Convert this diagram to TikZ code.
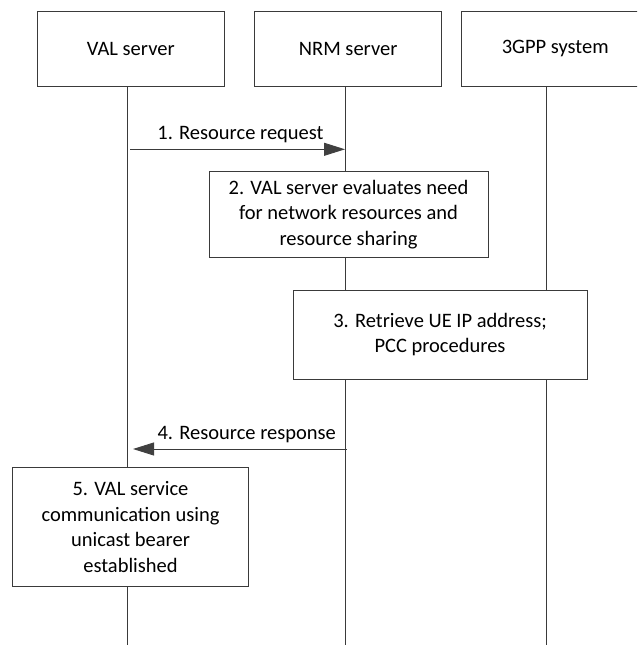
\documentclass[tikz,border=0pt]{standalone}
\usepackage{fontspec}
\setmainfont{Carlito}
\usetikzlibrary{arrows.meta}
\definecolor{linegray}{HTML}{3A3A3A}
\definecolor{headgray}{HTML}{404040}
\tikzset{
  txt/.style={font=\fontsize{20.5}{25.5}\selectfont, align=center, inner sep=0pt},
  actor/.style={draw=linegray, line width=0.9pt, fill=white, minimum width=187pt, minimum height=75pt, txt},
  stepbox/.style={draw=linegray, line width=0.9pt, fill=white, txt},
  life/.style={draw=linegray, line width=0.9pt},
  msg/.style={draw=linegray, line width=0.9pt, -{Triangle[length=21pt,width=13pt,fill=headgray,color=headgray]}},
  lbl/.style={txt, above=6pt}
}
\begin{document}
\begin{tikzpicture}[x=1pt,y=-1pt]
\path[use as bounding box] (0,0) rectangle (637,645);
\clip (0,0) rectangle (637,645);
\fill[white] (0,0) rectangle (637,645);

% lifeline anchors
\coordinate (valtop) at (127.7,86);
\coordinate (valbot) at (127.7,646);
\coordinate (nrmtop) at (345,86);
\coordinate (nrmbot) at (345,646);
\coordinate (sysTop) at (546.7,86);
\coordinate (sysBot) at (546.7,646);

\draw[life] (valtop) -- (valbot);
\draw[life] (nrmtop) -- (nrmbot);
\draw[life] (sysTop) -- (sysBot);

% headers
\node[actor] (val) at (130.8,48.5) {VAL server};
\node[actor] (nrm) at (348.2,48.5) {NRM server};
\node[actor] (sys) at (555.2,48.5) {3GPP system};

% message 1
\coordinate (m1s) at (130,149.3);
\coordinate (m1e) at (345,149.3);
\draw[msg] (m1s) -- (m1e) node[lbl, midway, xshift=3pt] (l1) {1. Resource request};

% step 2
\node[stepbox, minimum width=279pt, minimum height=86pt] (s2) at (348.5,214.2)
  {2. VAL server evaluates need\\for network resources and\\resource sharing};

% step 3
\node[stepbox, minimum width=294pt, minimum height=89pt] (s3) at (440,334.7)
  {3. Retrieve UE IP address;\\PCC procedures};

% message 4
\coordinate (m4s) at (346.5,449);
\coordinate (m4e) at (133,449);
\draw[msg] (m4s) -- (m4e) node[lbl, midway, xshift=7pt] (l4) {4. Resource response};

% step 5
\node[stepbox, minimum width=235.6pt, minimum height=119.4pt] (s5) at (130.5,527)
  {5. VAL service\\communication using\\unicast bearer\\established};
\end{tikzpicture}
\end{document}
